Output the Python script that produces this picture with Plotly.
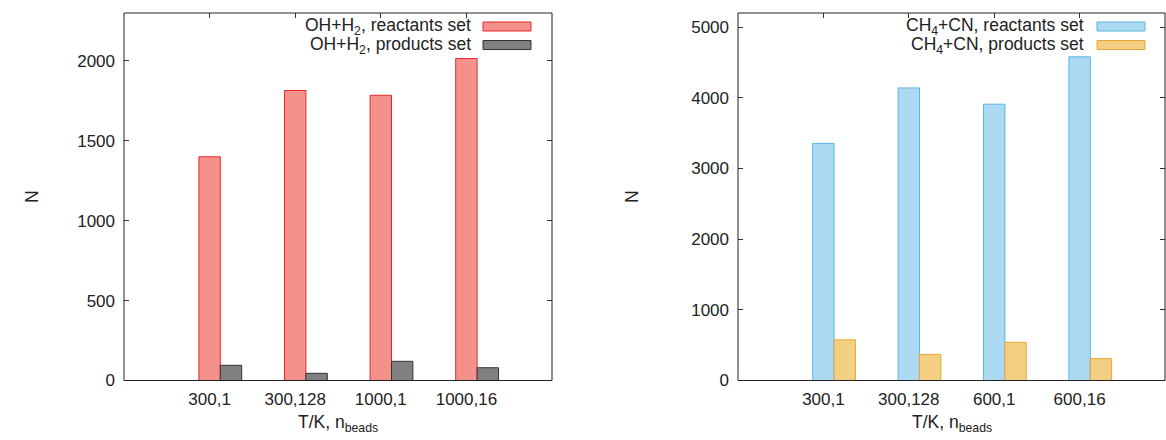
import plotly.graph_objects as go

# ---- data ----
cats_left = ["300,1", "300,128", "1000,1", "1000,16"]
oh_reactants = [1400, 1815, 1785, 2015]
oh_products = [95, 45, 120, 80]

cats_right = ["300,1", "300,128", "600,1", "600,16"]
cn_reactants = [3355, 4140, 3910, 4580]
cn_products = [575, 370, 540, 310]

y_ticks_left = [0, 500, 1000, 1500, 2000]
y_ticks_right = [0, 1000, 2000, 3000, 4000, 5000]

W, H = 1166, 450
REF_H = 440
FONT = "Liberation Sans, Arial, Helvetica, sans-serif"
TXT = "#222222"
TICK_SIZE = 17
LAB_SIZE = 17.5

RED_FILL, RED_LINE = "#f4918a", "#e8282c"
GRAY_FILL, GRAY_LINE = "#808080", "#333333"
BLUE_FILL, BLUE_LINE = "#acdaf2", "#5ab2e6"
ORG_FILL, ORG_LINE = "#f2cf82", "#e8a53a"

pos = list(range(len(cats_left)))
BW = 0.25


def px(x):
    return x / W


def py(y):
    return 1 - y / REF_H


fig = go.Figure()
fig.add_bar(x=pos, y=oh_reactants, width=BW, offset=-BW / 2, xaxis="x", yaxis="y",
            marker=dict(color=RED_FILL, line=dict(color=RED_LINE, width=1)), showlegend=False)
fig.add_bar(x=pos, y=oh_products, width=BW, offset=BW / 2, xaxis="x", yaxis="y",
            marker=dict(color=GRAY_FILL, line=dict(color=GRAY_LINE, width=1)), showlegend=False)
fig.add_bar(x=pos, y=cn_reactants, width=BW, offset=-BW / 2, xaxis="x2", yaxis="y2",
            marker=dict(color=BLUE_FILL, line=dict(color=BLUE_LINE, width=1)), showlegend=False)
fig.add_bar(x=pos, y=cn_products, width=BW, offset=BW / 2, xaxis="x2", yaxis="y2",
            marker=dict(color=ORG_FILL, line=dict(color=ORG_LINE, width=1)), showlegend=False)

left_dom = [px(124), px(552)]
right_dom = [px(738), px(1165)]
y_dom = [py(380.5), py(13)]

xcommon = dict(range=[-1, 4], tickmode="array", tickvals=pos, ticks="inside", ticklen=5,
               tickcolor="#333", mirror="ticks", showline=False, showgrid=False, zeroline=False,
               layer="below traces", ticklabelstandoff=6,
               tickfont=dict(family=FONT, size=TICK_SIZE, color=TXT))
ycommon = dict(ticks="inside", ticklen=5, tickcolor="#333", mirror="ticks", showline=False,
               showgrid=False, zeroline=False, layer="below traces", ticklabelstandoff=8,
               tickfont=dict(family=FONT, size=TICK_SIZE, color=TXT), tickmode="array")

fig.update_layout(
    width=W, height=H, margin=dict(l=0, r=0, t=0, b=0),
    paper_bgcolor="white", plot_bgcolor="white", barmode="overlay",
    xaxis=dict(domain=left_dom, anchor="y", ticktext=cats_left, **xcommon),
    yaxis=dict(domain=y_dom, anchor="x", range=[0, 2300], tickvals=y_ticks_left, **ycommon),
    xaxis2=dict(domain=right_dom, anchor="y2", ticktext=cats_right, **xcommon),
    yaxis2=dict(domain=y_dom, anchor="x2", range=[0, 5200], tickvals=y_ticks_right, **ycommon),
    font=dict(family=FONT, size=TICK_SIZE, color=TXT),
)

shapes = []
annos = []
for xd, yr in [("x domain", "y"), ("x2 domain", "y2")]:
    shapes.append(dict(type="rect", xref=xd, yref=yr + " domain", x0=0, x1=1, y0=0, y1=1,
                       line=dict(color="#222", width=1), layer="above"))

# axis titles
for cx in [(124 + 552) / 2, (738 + 1165) / 2]:
    annos.append(dict(x=px(cx), y=py(423), xref="paper", yref="paper", showarrow=False,
                      text="T/K, n<sub>beads</sub>", font=dict(family=FONT, size=LAB_SIZE, color=TXT),
                      xanchor="center", yanchor="middle"))
for cx in [32, 632]:
    annos.append(dict(x=px(cx), y=py(197), xref="paper", yref="paper", showarrow=False,
                      text="N", textangle=-90, font=dict(family=FONT, size=LAB_SIZE, color=TXT),
                      xanchor="center", yanchor="middle"))

# keys (gnuplot style: text then sample box)
keys = [
    (473, 483, 531, "OH+H<sub>2</sub>, reactants set", RED_FILL, RED_LINE, 26.5),
    (473, 483, 531, "OH+H<sub>2</sub>, products set", GRAY_FILL, GRAY_LINE, 45),
    (1086, 1097, 1145, "CH<sub>4</sub>+CN, reactants set", BLUE_FILL, BLUE_LINE, 26.5),
    (1086, 1097, 1145, "CH<sub>4</sub>+CN, products set", ORG_FILL, ORG_LINE, 45),
]
for tx, s0, s1, label, fc, lc, yc in keys:
    annos.append(dict(x=px(tx), y=py(yc), xref="paper", yref="paper", showarrow=False,
                      text=label, font=dict(family=FONT, size=LAB_SIZE, color=TXT),
                      xanchor="right", yanchor="middle"))
    shapes.append(dict(type="rect", xref="paper", yref="paper", x0=px(s0), x1=px(s1),
                       y0=py(yc + 4.5), y1=py(yc - 4.5), fillcolor=fc,
                       line=dict(color=lc, width=1)))

fig.update_layout(shapes=shapes, annotations=annos)

post = (
    "document.documentElement.style.margin='0';document.documentElement.style.padding='0';"
    "document.documentElement.style.overflow='hidden';"
    "document.body.style.margin='0';document.body.style.padding='0';"
    "document.body.style.overflow='hidden';"
)
fig.write_html("out.html", config={"displayModeBar": False}, post_script=post)
